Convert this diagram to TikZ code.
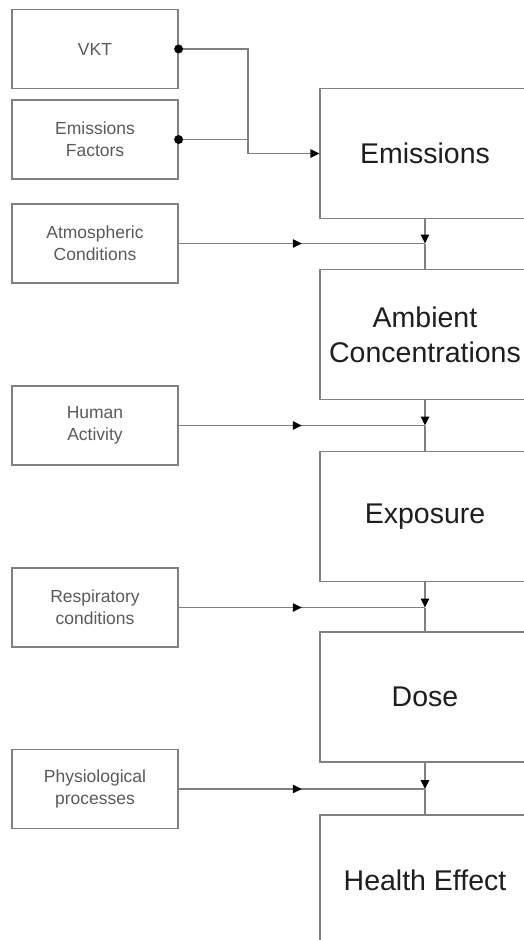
\documentclass[tikz,border=0pt]{standalone}
\usepackage{fontspec}
\setmainfont{Liberation Sans}
\usetikzlibrary{arrows.meta,decorations.markings}
\definecolor{linegray}{HTML}{808080}
\definecolor{smalltext}{HTML}{5A5A5A}
\definecolor{bigtext}{HTML}{1E1E1E}
\tikzset{
  factor/.style={draw=linegray, line width=1.2pt, minimum width=166pt, minimum height=79pt,
    align=center, text=smalltext, font=\fontsize{17.5}{22}\selectfont, inner sep=0pt},
  stage/.style={draw=linegray, line width=1.2pt, minimum width=210pt, minimum height=130pt,
    align=center, text=bigtext, font=\fontsize{28.5}{35}\selectfont, inner sep=0pt},
  link/.style={draw=linegray, line width=1.2pt},
  endtip/.style={-{Triangle[length=9pt,width=8.5pt,color=black]}},
  midtip/.style={postaction={decorate}, decoration={markings,
    mark=at position 0.5 with {\arrow{Triangle[length=9pt,width=8.5pt,color=black]}}}},
  dot/.style={circle, fill=black, inner sep=0pt, minimum size=9pt}
}
\begin{document}
\begin{tikzpicture}[x=1pt,y=-1pt]
\useasboundingbox (0,0) rectangle (524,940);
\clip (0,0) rectangle (524,940);
\fill[white] (0,0) rectangle (524,940);

% input factors
\node[factor] (vkt)  at (95,49)    {VKT};
\node[factor] (ef)   at (95,139.5) {Emissions\\Factors};
\node[factor] (atm)  at (95,243.5) {Atmospheric\\Conditions};
\node[factor] (hum)  at (95,425.5) {Human\\Activity};
\node[factor] (resp) at (95,607.5) {Respiratory\\conditions};
\node[factor] (phys) at (95,789)   {Physiological\\processes};

% main chain
\node[stage] (emis)   at (425,153.5) {Emissions};
\node[stage] (amb)    at (425,334.5) {Ambient\\Concentrations};
\node[stage] (expo)   at (425,516.5) {Exposure};
\node[stage] (dose)   at (425,697)   {Dose};
\node[stage] (health) at (425,880)   {Health Effect};

% VKT and emission factors feed the emissions stage
\coordinate (bus) at (248,0);
\draw[link, endtip] (vkt.east) -| (bus |- emis.west) -- (emis.west);
\draw[link] (ef.east) -- (bus |- ef.east);
\node[dot] (d1) at (vkt.east) {};
\node[dot] (d2) at (ef.east) {};

% junctions between stages
\coordinate (j1) at (emis.south |- atm.east);
\coordinate (j2) at (amb.south |- hum.east);
\coordinate (j3) at (expo.south |- resp.east);
\coordinate (j4) at (dose.south |- phys.east);

\draw[link, endtip] (emis.south) -- (j1);
\draw[link] (j1) -- (amb.north);
\draw[link, midtip] (atm.east) -- (j1);

\draw[link, endtip] (amb.south) -- (j2);
\draw[link] (j2) -- (expo.north);
\draw[link, midtip] (hum.east) -- (j2);

\draw[link, endtip] (expo.south) -- (j3);
\draw[link] (j3) -- (dose.north);
\draw[link, midtip] (resp.east) -- (j3);

\draw[link, endtip] (dose.south) -- (j4);
\draw[link] (j4) -- (health.north);
\draw[link, midtip] (phys.east) -- (j4);
\end{tikzpicture}
\end{document}
